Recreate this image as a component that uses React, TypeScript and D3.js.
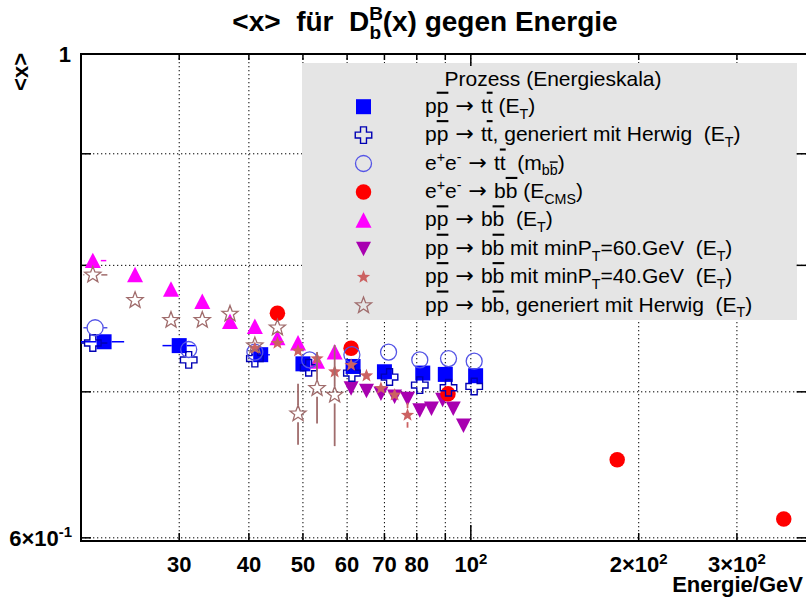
import React from 'react';
import * as d3 from 'd3';

// ---------- axis setup ----------
const X_DOMAIN: [number, number] = [20, 400];
const Y_DOMAIN: [number, number] = [0.598, 1];
const xTickValues = [30, 40, 50, 60, 70, 80, 90, 100, 200, 300];
const xTickMain = ['30', '40', '50', '60', '70', '80', '', '10', '2×10', '3×10'];
const xTickExp = ['', '', '', '', '', '', '', '2', '2', '2'];
const yGridValues = [0.6, 0.7, 0.8, 0.9];

// ---------- data ----------
// p pbar -> t tbar (E_T)
const ttE = [22, 30, 42, 50, 61.5, 70, 82, 90, 102];
const ttV = [0.738, 0.735, 0.728, 0.721, 0.719, 0.715, 0.714, 0.713, 0.712];
const ttXLo = [20, 28, 40.5, null, null, null, null, null, null];
const ttXHi = [23.9, 32, 43.6, null, null, null, null, null, null];

// p pbar -> t tbar, Herwig (E_T)
const ttHwE = [21, 31.2, 41, 51.2, 61.2, 71.5, 81, 91.2, 101.4];
const ttHwV = [0.737, 0.724, 0.725, 0.718, 0.714, 0.711, 0.705, 0.703, 0.704];
const ttHwXLo = [20, null, null, null, null, null, null, null, null];
const ttHwXHi = [22.3, null, null, null, null, null, null, null, null];

// e+e- -> t tbar (m_bbbar)
const eeTtE = [21.2, 31.2, 41, 51.4, 61.2, 71.2, 81, 91.2, 101.4];
const eeTtV = [0.749, 0.732, 0.730, 0.724, 0.728, 0.730, 0.724, 0.725, 0.723];
const eeTtXLo = [20.2, null, null, null, null, null, null, null, null];
const eeTtXHi = [22.3, null, null, null, null, null, null, null, null];

// e+e- -> b bbar (E_CMS)
const eeBbE = [45, 61, 91, 183, 364];
const eeBbV = [0.7605, 0.733, 0.6985, 0.6515, 0.612];

// p pbar -> b bbar (E_T)
const bbE = [21, 25, 29, 33, 37, 41, 45, 49, 53, 57];
const bbV = [0.804, 0.792, 0.780, 0.770, 0.754, 0.750, 0.741, 0.737, 0.723, 0.730];
const bbXLo = [20.3, null, null, null, null, null, null, null, null, null];
const bbXHi = [22.2, null, null, null, null, null, null, null, null, null];

// p pbar -> b bbar, minP_T = 60 GeV
const bb60E = [61, 65, 69, 73, 77, 81, 85, 89, 93, 97];
const bb60V = [0.7026, 0.7008, 0.6987, 0.6966, 0.695, 0.6865, 0.6878, 0.6941, 0.6878, 0.6756];

// p pbar -> b bbar, minP_T = 40 GeV
const bb40E = [41, 45, 49, 53, 57, 61, 65, 69, 73, 77];
const bb40V = [0.733, 0.737, 0.731, 0.725, 0.715, 0.720, 0.712, 0.7026, 0.6977, 0.683];
const bb40YLo = [null, null, null, null, null, null, null, null, null, 0.674];
const bb40YHi = [null, null, null, null, null, null, null, null, null, 0.692];

// p pbar -> b bbar, Herwig (E_T)
const bbHwE = [21, 25, 29, 33, 37, 41, 45, 49, 53, 57];
const bbHwV = [0.792, 0.771, 0.755, 0.755, 0.760, 0.735, 0.749, 0.684, 0.7026, 0.6977];
const bbHwXLo = [20.2, null, null, null, null, null, null, null, null, null];
const bbHwXHi = [22.3, null, null, null, null, null, null, null, null, null];
const bbHwYLo = [null, null, null, null, null, null, null, 0.662, 0.677, 0.661];
const bbHwYHi = [null, null, null, null, null, null, null, 0.706, 0.730, 0.7355];

// ---------- marker shapes ----------
type Shape = 'square' | 'cross' | 'circle' | 'triUp' | 'triDown' | 'star';

function starPath(R: number, r: number) {
  const pts: string[] = [];
  for (let i = 0; i < 10; i++) {
    const a = -Math.PI / 2 + (i * Math.PI) / 5;
    const rad = i % 2 === 0 ? R : r;
    pts.push(`${(rad * Math.cos(a)).toFixed(2)},${(rad * Math.sin(a)).toFixed(2)}`);
  }
  return 'M' + pts.join('L') + 'Z';
}

function shapePath(shape: Shape, s: number) {
  const h = s / 2;
  switch (shape) {
    case 'square':
      return `M${-h},${-h}h${s}v${s}h${-s}Z`;
    case 'cross': {
      const a = s * 0.18;
      return `M${-a},${-h}H${a}V${-a}H${h}V${a}H${a}V${h}H${-a}V${a}H${-h}V${-a}H${-a}Z`;
    }
    case 'circle':
      return d3.arc()({ innerRadius: 0, outerRadius: h, startAngle: 0, endAngle: 2 * Math.PI }) as string;
    case 'triUp':
      return `M0,${-h}L${h},${h * 0.93}L${-h},${h * 0.93}Z`;
    case 'triDown':
      return `M0,${h}L${h},${-h * 0.93}L${-h},${-h * 0.93}Z`;
    case 'star':
      return starPath(h, h * 0.42);
  }
}

interface Series {
  name: string;
  E: number[];
  V: number[];
  shape: Shape;
  size: number;
  fill: string;
  stroke: string;
  strokeWidth: number;
  xLo?: (number | null)[];
  xHi?: (number | null)[];
  yLo?: (number | null)[];
  yHi?: (number | null)[];
}

const series: Series[] = [
  { name: 'tt', E: ttE, V: ttV, shape: 'square', size: 15, fill: '#0000ff', stroke: 'none', strokeWidth: 0, xLo: ttXLo, xHi: ttXHi },
  { name: 'bb', E: bbE, V: bbV, shape: 'triUp', size: 16, fill: '#ff00ff', stroke: 'none', strokeWidth: 0, xLo: bbXLo, xHi: bbXHi },
  { name: 'bb60', E: bb60E, V: bb60V, shape: 'triDown', size: 15, fill: '#a800b0', stroke: 'none', strokeWidth: 0 },
  { name: 'eebb', E: eeBbE, V: eeBbV, shape: 'circle', size: 15.5, fill: '#ff0000', stroke: 'none', strokeWidth: 0 },
  { name: 'ttHw', E: ttHwE, V: ttHwV, shape: 'cross', size: 16.5, fill: 'none', stroke: '#0000b4', strokeWidth: 1.4, xLo: ttHwXLo, xHi: ttHwXHi },
  { name: 'eett', E: eeTtE, V: eeTtV, shape: 'circle', size: 16, fill: 'none', stroke: '#5454e6', strokeWidth: 1.3, xLo: eeTtXLo, xHi: eeTtXHi },
  { name: 'bb40', E: bb40E, V: bb40V, shape: 'star', size: 14, fill: '#cc6262', stroke: 'none', strokeWidth: 0, yLo: bb40YLo, yHi: bb40YHi },
  { name: 'bbHw', E: bbHwE, V: bbHwV, shape: 'star', size: 17, fill: 'none', stroke: '#a06c6c', strokeWidth: 1.3, xLo: bbHwXLo, xHi: bbHwXHi, yLo: bbHwYLo, yHi: bbHwYHi },
];

// ---------- rich text helper ----------
type Seg = { t: string; s?: 'sub' | 'sup'; o?: boolean; dx?: number; f?: string; k?: number };

function rich(segs: Seg[], size: number) {
  let cur = 0;
  return segs.map((g, i) => {
    const target = g.s === 'sub' ? size * 0.28 : g.s === 'sup' ? -size * 0.38 : 0;
    const dy = target - cur;
    cur = target;
    return (
      <tspan
        key={i}
        dy={dy || undefined}
        dx={g.dx}
        fontFamily={g.f}
        fontSize={(g.s ? size * 0.68 : size) * (g.k ?? 1)}
        textDecoration={g.o ? 'overline' : undefined}
      >
        {g.t}
      </tspan>
    );
  });
}

const ARROW_FONT = "'DejaVu Sans', sans-serif";
const ppbar: Seg[] = [{ t: 'p' }, { t: 'p', o: true }];
const arrow: Seg = { t: ' → ', f: ARROW_FONT, k: 1.05 };
const ET: Seg[] = [{ t: '(E' }, { t: 'T', s: 'sub' }, { t: ')' }];

const legendTitle = 'Prozess (Energieskala)';
const legendRows: { key: string; segs: Seg[] }[] = [
  { key: 'tt', segs: [...ppbar, arrow, { t: 't' }, { t: 't', o: true }, { t: ' ' }, ...ET] },
  { key: 'ttHw', segs: [...ppbar, arrow, { t: 't' }, { t: 't', o: true }, { t: ', generiert mit Herwig  ' }, ...ET] },
  { key: 'eett', segs: [{ t: 'e' }, { t: '+', s: 'sup' }, { t: 'e' }, { t: '-', s: 'sup' }, arrow, { t: 't' }, { t: 't', o: true }, { t: '  (m' }, { t: 'b', s: 'sub' }, { t: 'b', s: 'sub', o: true }, { t: ')' }] },
  { key: 'eebb', segs: [{ t: 'e' }, { t: '+', s: 'sup' }, { t: 'e' }, { t: '-', s: 'sup' }, arrow, { t: 'b' }, { t: 'b', o: true }, { t: ' (E' }, { t: 'CMS', s: 'sub' }, { t: ')' }] },
  { key: 'bb', segs: [...ppbar, arrow, { t: 'b' }, { t: 'b', o: true }, { t: '  ' }, ...ET] },
  { key: 'bb60', segs: [...ppbar, arrow, { t: 'b' }, { t: 'b', o: true }, { t: ' mit minP' }, { t: 'T', s: 'sub' }, { t: '=60.GeV  ' }, ...ET] },
  { key: 'bb40', segs: [...ppbar, arrow, { t: 'b' }, { t: 'b', o: true }, { t: ' mit minP' }, { t: 'T', s: 'sub' }, { t: '=40.GeV  ' }, ...ET] },
  { key: 'bbHw', segs: [...ppbar, arrow, { t: 'b' }, { t: 'b', o: true }, { t: ', generiert mit Herwig  ' }, ...ET] },
];

const FONT = "'Liberation Sans', Arial, Helvetica, sans-serif";

export default function App() {
  const left = 81;
  const right = 806.6;
  const top = 54;
  const bottom = 541;
  const x = d3.scaleLog().domain(X_DOMAIN).range([left, right]);
  const y = d3.scaleLog().domain(Y_DOMAIN).range([bottom, top]);

  const dotted = { stroke: '#000', strokeWidth: 1, strokeDasharray: '1.3 2.7' };

  const marker = (s: Series, cx: number, cy: number, key: string) => (
    <path
      key={key}
      d={shapePath(s.shape, s.size)}
      transform={`translate(${cx},${cy})`}
      fill={s.fill}
      stroke={s.stroke}
      strokeWidth={s.strokeWidth}
    />
  );

  const errorBars = (s: Series) => {
    const out: React.ReactNode[] = [];
    const gap = s.size / 2;
    const col = s.stroke !== 'none' ? s.stroke : s.fill;
    s.E.forEach((e, i) => {
      const cx = x(e);
      const cy = y(s.V[i]);
      const xl = s.xLo?.[i];
      const xh = s.xHi?.[i];
      if (xl != null && xh != null) {
        const a = x(xl), b = x(xh);
        if (a < cx - gap) out.push(<line key={`xl${i}`} x1={a} x2={cx - gap} y1={cy} y2={cy} stroke={col} strokeWidth={1.5} />);
        if (b > cx + gap) out.push(<line key={`xh${i}`} x1={cx + gap} x2={b} y1={cy} y2={cy} stroke={col} strokeWidth={1.5} />);
      }
      const yl = s.yLo?.[i];
      const yh = s.yHi?.[i];
      if (yl != null && yh != null) {
        const a = y(yh), b = y(yl);
        if (a < cy - gap) out.push(<line key={`yh${i}`} x1={cx} x2={cx} y1={a} y2={cy - gap} stroke={col} strokeWidth={1.8} />);
        if (b > cy + gap) out.push(<line key={`yl${i}`} x1={cx} x2={cx} y1={cy + gap} y2={b} stroke={col} strokeWidth={1.8} />);
      }
    });
    return out;
  };

  // legend geometry
  const lgX = 302, lgY = 63, lgW = 495, lgH = 257;
  const rowY0 = 106.7, rowStep = 28.4;
  const legendOrder = ['tt', 'ttHw', 'eett', 'eebb', 'bb', 'bb60', 'bb40', 'bbHw'];

  return (
    <svg
      width={806}
      height={601}
      style={{ position: 'fixed', left: 0, top: 0, background: '#ffffff' }}
      fontFamily={FONT}
    >
      <rect x={0} y={0} width={806} height={601} fill="#ffffff" />

      {/* grid */}
      {xTickValues.map((v) => (
        <line key={`gx${v}`} x1={x(v)} x2={x(v)} y1={top} y2={bottom} {...dotted} />
      ))}
      {yGridValues.map((v) => (
        <line key={`gy${v}`} x1={left} x2={right} y1={y(v)} y2={y(v)} {...dotted} />
      ))}

      {/* legend box (covers grid) */}
      <rect x={lgX} y={lgY} width={lgW} height={lgH} fill="#e5e5e5" />

      {/* ticks */}
      {xTickValues.map((v) => {
        const major = v === 100;
        return (
          <g key={`tx${v}`}>
            <line x1={x(v)} x2={x(v)} y1={bottom} y2={bottom - (major ? 16 : 8)} stroke="#000" strokeWidth={1.5} />
            <line x1={x(v)} x2={x(v)} y1={top} y2={top + (major ? 12 : 6)} stroke="#000" strokeWidth={1.5} />
          </g>
        );
      })}
      {yGridValues.map((v) => (
        <g key={`ty${v}`}>
          <line x1={left} x2={left + 10} y1={y(v)} y2={y(v)} stroke="#000" strokeWidth={1.5} />
          <line x1={right - 10} x2={right} y1={y(v)} y2={y(v)} stroke="#000" strokeWidth={1.5} />
        </g>
      ))}

      {/* frame */}
      <path d={`M${left},${bottom}V${top}H${right + 2}`} fill="none" stroke="#000" strokeWidth={2} />
      <line x1={left - 1} x2={right + 2} y1={bottom} y2={bottom} stroke="#000" strokeWidth={2} />

      {/* data */}
      {series.map((s) => (
        <g key={s.name}>
          {errorBars(s)}
          {s.E.map((e, i) => marker(s, x(e), y(s.V[i]), `${s.name}${i}`))}
        </g>
      ))}

      {/* legend content */}
      <text x={553} y={85.5} fontSize={21} textAnchor="middle">
        {legendTitle}
      </text>
      {legendOrder.map((k, i) => {
        const s = series.find((q) => q.name === k)!;
        const row = legendRows.find((r) => r.key === k)!;
        const cy = rowY0 + i * rowStep;
        return (
          <g key={`lg${k}`}>
            {marker(s, 363.5, cy, `lgm${k}`)}
            <text x={425} y={cy + 6} fontSize={21} style={{ whiteSpace: 'pre' }}>
              {rich(row.segs, 21)}
            </text>
          </g>
        );
      })}

      {/* x tick labels */}
      {xTickValues.map((v, i) =>
        xTickMain[i] ? (
          <text key={`lx${v}`} x={x(v)} y={572} fontSize={22} fontWeight="bold" textAnchor="middle">
            {rich(
              xTickExp[i] ? [{ t: xTickMain[i] }, { t: xTickExp[i], s: 'sup' }] : [{ t: xTickMain[i] }],
              22
            )}
          </text>
        ) : null
      )}
      <text x={803} y={592} fontSize={22} fontWeight="bold" textAnchor="end">
        Energie/GeV
      </text>

      {/* y tick labels */}
      <text x={71} y={y(1) + 8} fontSize={22} fontWeight="bold" textAnchor="end">
        1
      </text>
      <text x={72} y={y(0.6) + 8} fontSize={22} fontWeight="bold" textAnchor="end">
        {rich([{ t: '6×10' }, { t: '-1', s: 'sup' }], 22)}
      </text>

      {/* y axis title */}
      <text
        transform="translate(28,53) rotate(-90)"
        fontSize={22}
        fontWeight="bold"
        textAnchor="end"
      >
        {'<x>'}
      </text>

      {/* chart title */}
      <text x={425} y={31} fontSize={28} fontWeight="bold" textAnchor="middle" style={{ whiteSpace: 'pre' }}>
        {rich(
          [
            { t: '<x>  für  D' },
            { t: 'B', s: 'sup' },
            { t: 'b', s: 'sub', dx: -13.5 },
            { t: '(x) gegen Energie', dx: 1.5 },
          ],
          28
        )}
      </text>
    </svg>
  );
}
